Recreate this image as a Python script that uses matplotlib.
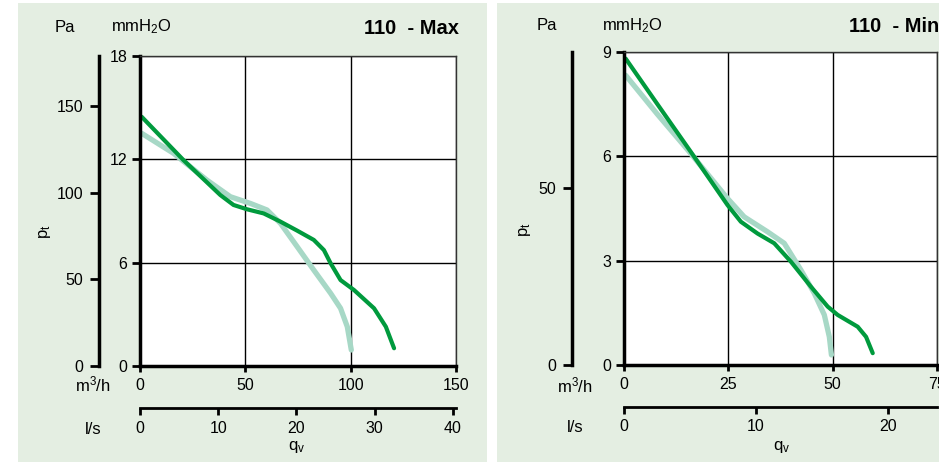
import matplotlib
matplotlib.use("Agg")
import matplotlib.pyplot as plt
from matplotlib.patches import Rectangle

plt.rcParams['font.family'] = ['Liberation Sans', 'DejaVu Sans']
plt.rcParams['mathtext.default'] = 'regular'

W, H = 939, 462

# --- data (m3/h vs mmH2O) ---
max_dark_q = [0.8, 20.6, 38.1, 44.4, 50.8, 58.7, 66.7, 74.6, 82.5, 87.3, 90.5, 95.2, 101.6, 111.1, 116.7, 120.6]
max_dark_p = [14.47, 11.96, 9.93, 9.35, 9.10, 8.86, 8.38, 7.86, 7.32, 6.73, 5.96, 4.99, 4.41, 3.35, 2.28, 1.03]
max_light_q = [0.8, 15.9, 31.7, 42.9, 52.4, 60.3, 66.7, 74.6, 82.5, 90.5, 95.2, 98.4, 100.3]
max_light_p = [13.51, 12.35, 10.8, 9.83, 9.44, 9.06, 8.28, 6.93, 5.57, 4.22, 3.35, 2.28, 0.93]

min_dark_q = [0.4, 8.0, 16.0, 24.8, 28.0, 32.0, 36.0, 40.0, 44.8, 48.8, 51.2, 56.0, 58.0, 59.6]
min_dark_p = [8.81, 7.50, 6.13, 4.60, 4.12, 3.78, 3.50, 2.97, 2.25, 1.68, 1.44, 1.10, 0.81, 0.34]
min_light_q = [0.4, 8.0, 16.0, 24.8, 28.8, 34.4, 38.4, 42.4, 45.6, 48.0, 49.2, 49.7]
min_light_p = [8.33, 7.21, 6.08, 4.79, 4.26, 3.83, 3.50, 2.73, 2.06, 1.44, 0.81, 0.29]

DARK = '#009a3d'
LIGHT = '#a7d8c6'
BG = '#e4eee2'
FS = 11.5


def fx(px):
    return px / W


def fy(py):
    return 1 - py / H


def make_panel(fig, box, qmax, pmax, xticks, yticks, pa_ratio, pa_ticks, pa_loc,
               ls_ratio, ls_ticks, ls_loc, curves, title, txt):
    x0, y0, x1, y1 = box
    ax = fig.add_axes([fx(x0), fy(y1), (x1 - x0) / W, (y1 - y0) / H])
    ax.set_facecolor('white')
    ax.set_xlim(0, qmax)
    ax.set_ylim(0, pmax)
    ax.set_xticks(xticks)
    ax.set_yticks(yticks)
    ax.grid(True, color='black', lw=1)
    ax.set_axisbelow(True)
    for s in ['top', 'right']:
        ax.spines[s].set_linewidth(1)
        ax.spines[s].set_color('#333333')
    for s in ['left', 'bottom']:
        ax.spines[s].set_linewidth(2.5)
    ax.tick_params(axis='y', direction='out', length=6, width=2, pad=3, labelsize=FS)
    ax.tick_params(axis='x', direction='out', length=4.5, width=2, pad=4, labelsize=FS)

    for q, p, c, lw in curves:
        ax.plot(q, p, color=c, lw=lw, solid_capstyle='round', solid_joinstyle='round',
                clip_on=False)

    pa = ax.secondary_yaxis(pa_loc, functions=(lambda v: v * pa_ratio, lambda v: v / pa_ratio))
    pa.set_yticks(pa_ticks)
    pa.spines['left'].set_linewidth(2.5)
    pa.tick_params(direction='out', length=6.5, width=2, pad=5, labelsize=FS)

    ls = ax.secondary_xaxis(ls_loc, functions=(lambda v: v * ls_ratio, lambda v: v / ls_ratio))
    ls.set_xticks(ls_ticks)
    ls.spines['bottom'].set_linewidth(2)
    ls.tick_params(direction='out', length=5, width=2, pad=4, labelsize=FS)

    # labels
    for s, (px, py), kw in txt:
        fig.text(fx(px), fy(py), s, ha='center', va='center', fontsize=12, **kw)
    fig.text(fx(title[1]), fy(title[2]), title[0], ha='right', va='center',
             fontsize=14.5, fontweight='bold')
    return ax


fig = plt.figure(figsize=(W / 100, H / 100), dpi=100)
fig.patch.set_facecolor('white')
fig.patches.append(Rectangle((fx(18), 0), (487 - 18) / W, fy(3), transform=fig.transFigure,
                             facecolor=BG, edgecolor='none', zorder=-10))
fig.patches.append(Rectangle((fx(497), 0), (945 - 497) / W, fy(3), transform=fig.transFigure,
                             facecolor=BG, edgecolor='none', zorder=-10))

make_panel(fig, (140, 56, 456, 366), 150, 18, [0, 50, 100, 150], [0, 6, 12, 18],
           9.94, [0, 50, 100, 150], -0.1297, 40.4 / 150, [0, 10, 20, 30, 40], -0.1365,
           [(max_light_q, max_light_p, LIGHT, 3.8), (max_dark_q, max_dark_p, DARK, 3.0)],
           ('110  - Max', 459, 28),
           [('Pa', (65, 27), {}), ('mmH$_2$O', (141, 27), {}), ('m$^3$/h', (93, 384), {}),
            ('l/s', (93, 429), {}), ('q$_v$', (297, 447), {}),
            ('p$_t$', (45, 232), {'rotation': 90})])

make_panel(fig, (624, 52, 937, 365), 75, 9, [0, 25, 50, 75], [0, 3, 6, 9],
           9.85, [0, 50], -0.167, 23.69 / 75, [0, 10, 20], -0.133,
           [(min_light_q, min_light_p, LIGHT, 3.8), (min_dark_q, min_dark_p, DARK, 3.0)],
           ('110  - Min', 939, 26),
           [('Pa', (547, 26), {}), ('mmH$_2$O', (632, 26), {}), ('m$^3$/h', (575, 385), {}),
            ('l/s', (575, 427), {}), ('q$_v$', (782, 447), {}),
            ('p$_t$', (525, 230), {'rotation': 90})])

fig.savefig('out.png', dpi=100, facecolor=fig.get_facecolor())
